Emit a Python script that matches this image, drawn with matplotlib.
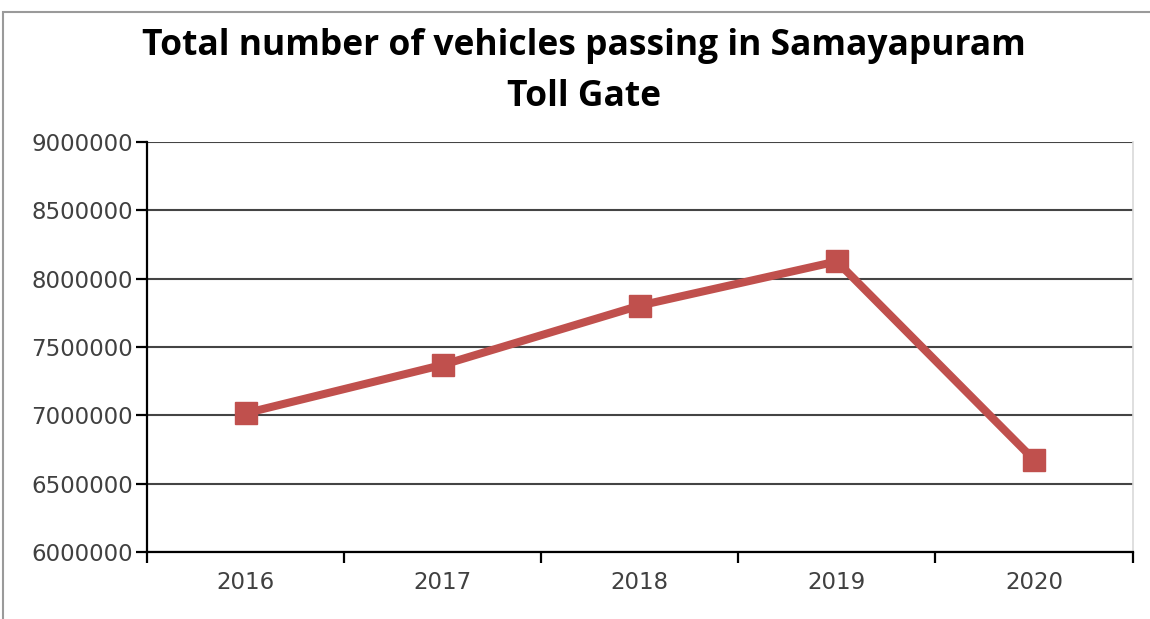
import matplotlib.pyplot as plt
from matplotlib.patches import Rectangle

anios = ['2016', '2017', '2018', '2019', '2020']
vehiculos = [7015000, 7369000, 7803000, 8126000, 6675000]
marcas_y = [6000000, 6500000, 7000000, 7500000, 8000000, 8500000, 9000000]

fig = plt.figure(figsize=(11.5, 6.19), dpi=100)
ax = fig.add_axes([0.1278, 0.1082, 0.857, 0.6625])

# marco exterior del grafico
fig.patches.append(Rectangle((3 / 1150, -0.1), 1.2, 1.1 - 11.5 / 619, transform=fig.transFigure,
                             fill=False, edgecolor='#9a9a9a', linewidth=1.5))

x = list(range(len(anios)))
ax.plot(x, vehiculos, color='#C0504D', linewidth=5.8, marker='s', markersize=16,
        solid_capstyle='round', zorder=3)

ax.set_ylim(6000000, 9000000)
ax.set_xlim(-0.5, len(anios) - 0.5)
ax.set_yticks(marcas_y)
ax.set_yticklabels([str(v) for v in marcas_y])
ax.set_xticks(x)
ax.set_xticklabels(anios)
ax.set_xticks([i - 0.5 for i in range(len(anios) + 1)], minor=True)

ax.tick_params(axis='x', which='major', length=0, pad=14, labelsize=16.5, labelcolor='#404040')
ax.tick_params(axis='x', which='minor', length=8, width=1.6, direction='out', color='black')
ax.tick_params(axis='y', length=8, width=1.6, direction='out', labelsize=16.5,
               labelcolor='#404040', pad=2)

ax.grid(axis='y', color='#444444', linewidth=1.5)
ax.set_axisbelow(True)

for lado in ['left', 'bottom']:
    ax.spines[lado].set_linewidth(1.6)
    ax.spines[lado].set_color('black')
ax.spines['top'].set_visible(False)
ax.spines['right'].set_color('#d9d9d9')
ax.spines['right'].set_linewidth(1.2)

fig.text(0.508, 0.926, 'Total number of vehicles passing in Samayapuram', ha='center', va='center',
         fontsize=25.5, fontweight='bold', family='Open Sans')
fig.text(0.508, 0.844, 'Toll Gate', ha='center', va='center',
         fontsize=25.5, fontweight='bold', family='Open Sans')

fig.savefig('out.png', dpi=100)
